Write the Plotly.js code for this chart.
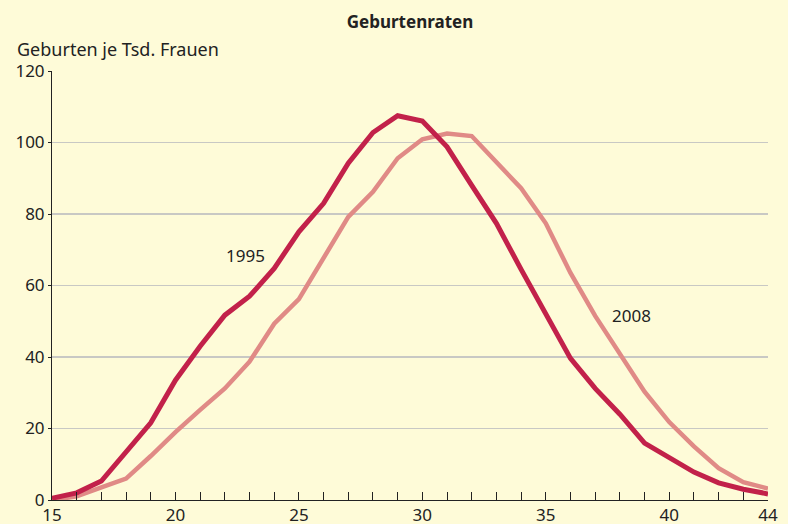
<!DOCTYPE html>
<html>
<head>
<meta charset="utf-8">
<script src="https://cdn.plot.ly/plotly-3.0.1.min.js"></script>
<style>html,body{margin:0;padding:0;background:#fefbd8;}#chart{width:788px;height:524px;}</style>
</head>
<body>
<div id="chart"></div>
<script>
const ages = [15,16,17,18,19,20,21,22,23,24,25,26,27,28,29,30,31,32,33,34,35,36,37,38,39,40,41,42,43,44];
const rates1995 = [0.5,2,5.3,13.3,21.6,33.5,43,51.7,57,64.8,75,83,94.2,102.8,107.5,106,98.8,88,77.4,64.5,52,39.6,31.2,24,15.9,11.8,7.8,4.8,3,1.7];
const rates2008 = [0,1,3.5,6,12.3,19,25.2,31.2,38.7,49.3,56.2,68,79.2,86.2,95.6,100.9,102.5,101.8,94.6,87.2,77.4,63.5,51.5,41,30.3,21.8,15,8.9,5,3.2];
const xTickLabels = {15:'15',20:'20',25:'25',30:'30',35:'35',40:'40',44:'44'};
const yTicks = [0,20,40,60,80,100,120];
const seriesNames = ['1995','2008'];

const font = 'Noto Sans, Arial, sans-serif';
const txt = '#222222';

const traces = [
  {x: ages, y: rates2008, type:'scatter', mode:'lines', name: seriesNames[1],
   line:{color:'#e08a86', width:4.5}, hoverinfo:'skip'},
  {x: ages, y: rates1995, type:'scatter', mode:'lines', name: seriesNames[0],
   line:{color:'#c2214a', width:5}, hoverinfo:'skip'}
];

const layout = {
  width:788, height:524,
  margin:{l:52, r:20, t:71, b:24},
  paper_bgcolor:'#fefbd8', plot_bgcolor:'#fefbd8',
  showlegend:false,
  font:{family:font, size:17, color:txt},
  title:{text:'<b>Geburtenraten</b>', font:{family:font, size:17, color:txt},
         x:0.5, xref:'paper', y:0.958, yref:'container', xanchor:'center', yanchor:'middle'},
  xaxis:{range:[15,44], tickmode:'array', tickvals:ages,
         ticktext: ages.map(a => xTickLabels[a] || ''),
         ticks:'inside', ticklen:8, tickwidth:1, tickcolor:'#222',
         showline:true, linecolor:'#222', linewidth:1, showgrid:false, zeroline:false,
         tickfont:{family:font, size:17, color:txt}, fixedrange:true},
  yaxis:{range:[0,120], tickmode:'array', tickvals:yTicks,
         ticks:'outside', ticklen:3, tickwidth:1, tickcolor:'#222',
         showline:true, linecolor:'#222', linewidth:1,
         showgrid:true, gridcolor:'#c8c8c4', gridwidth:1.2, zeroline:false,
         tickfont:{family:font, size:17, color:txt}, fixedrange:true},
  annotations:[
    {text:'Geburten je Tsd. Frauen', xref:'paper', yref:'paper', x:-0.052, y:1.0, yshift:22,
     xanchor:'left', yanchor:'middle', showarrow:false, font:{family:font, size:18, color:txt}},
    {text:seriesNames[0], xref:'x', yref:'y', x:22.82, y:68.5, showarrow:false,
     xanchor:'center', yanchor:'middle', font:{family:font, size:17, color:txt}},
    {text:seriesNames[1], xref:'x', yref:'y', x:38.48, y:51.7, showarrow:false,
     xanchor:'center', yanchor:'middle', font:{family:font, size:17, color:txt}}
  ]
};

Plotly.newPlot('chart', traces, layout, {displayModeBar:false, staticPlot:true});
</script>
</body>
</html>
